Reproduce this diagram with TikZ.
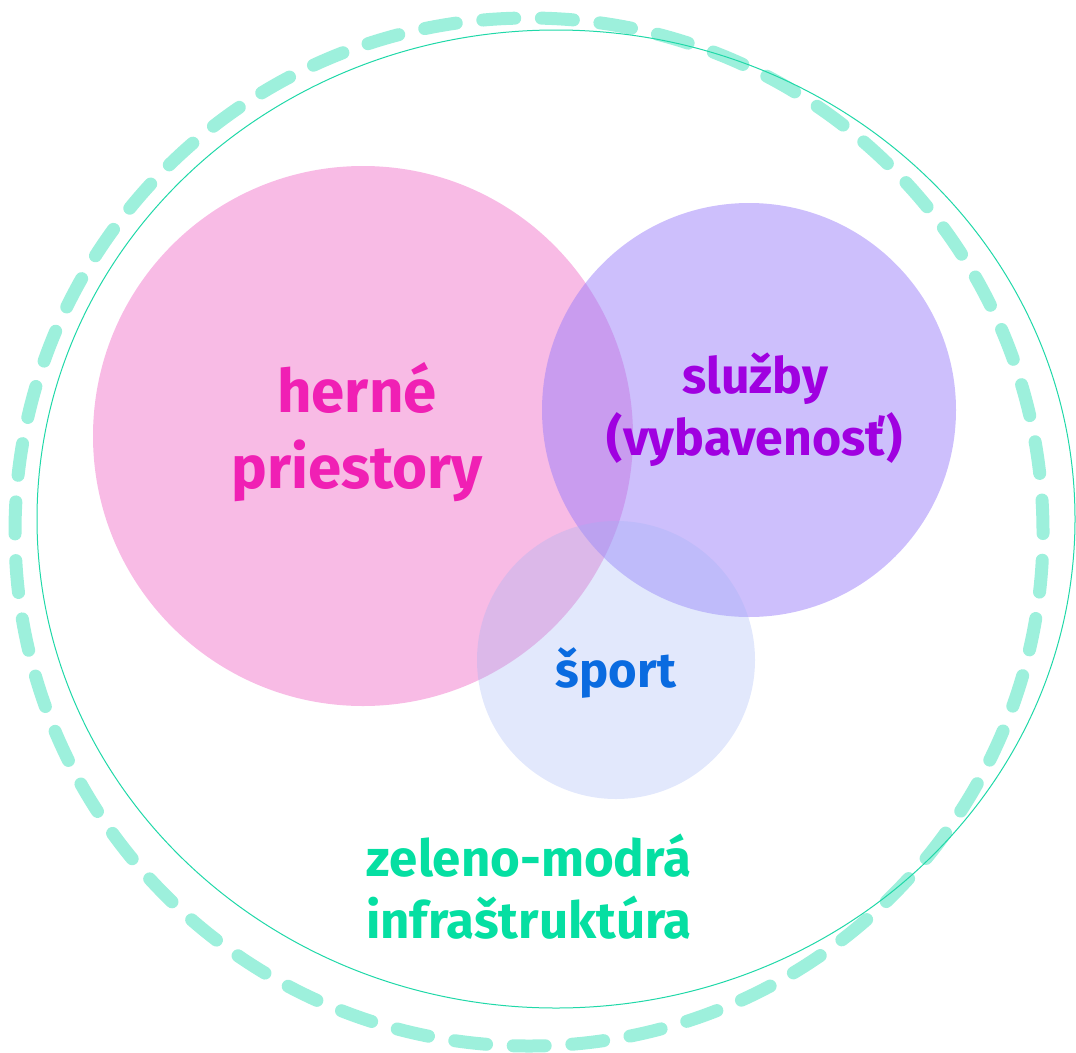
\documentclass[tikz,border=0pt]{standalone}
\usepackage{fontspec}
\setmainfont{Fira Sans}
\definecolor{pinkfill}{HTML}{F8BBE5}
\definecolor{purplefill}{HTML}{9B7FF9}
\definecolor{bluefill}{HTML}{9EB2F5}
\definecolor{dashgreen}{HTML}{9DF0DC}
\definecolor{thingreen}{HTML}{20D8A8}
\definecolor{pinktext}{HTML}{F020B4}
\definecolor{purpletext}{HTML}{A000E0}
\definecolor{bluetext}{HTML}{0A6BE0}
\definecolor{greentext}{HTML}{05DFA2}
\tikzset{
  lbl/.style={align=center, font=\bfseries, inner sep=0pt, anchor=base},
}
\begin{document}
\begin{tikzpicture}[x=1pt,y=-1pt]
\useasboundingbox (0,0) rectangle (1076,1052);
% outer rings
\draw[dashgreen, line width=13pt, line cap=round, dash pattern=on 32pt off 26.7pt] (529,532) circle[radius=514pt];
\draw[thingreen, line width=1pt] (556,519) ellipse[x radius=519pt, y radius=489pt];
% circles
\fill[pinkfill] (363,436) circle[radius=270pt];
\fill[purplefill, fill opacity=0.5] (749,410) circle[radius=207pt];
\fill[bluefill, fill opacity=0.3] (616,660) circle[radius=139pt];
% labels
\node[lbl, text=pinktext, font=\bfseries\fontsize{60}{60}\selectfont] (h1) at (357,412) {herné};
\node[lbl, text=pinktext, font=\bfseries\fontsize{60}{60}\selectfont] (h2) at (357,488) {priestory};
\node[lbl, text=purpletext, font=\bfseries\fontsize{50}{50}\selectfont] (s1) at (755,393) {služby};
\node[lbl, text=purpletext, font=\bfseries\fontsize{50}{50}\selectfont] (s2) at (755,455) {(vybavenosť)};
\node[lbl, text=bluetext, font=\bfseries\fontsize{49}{49}\selectfont] (sp) at (616,687) {šport};
\node[lbl, text=greentext, font=\bfseries\fontsize{51}{51}\selectfont] (z1) at (529,876) {zeleno-modrá};
\node[lbl, text=greentext, font=\bfseries\fontsize{51}{51}\selectfont] (z2) at (529,938) {infraštruktúra};
\end{tikzpicture}
\end{document}
